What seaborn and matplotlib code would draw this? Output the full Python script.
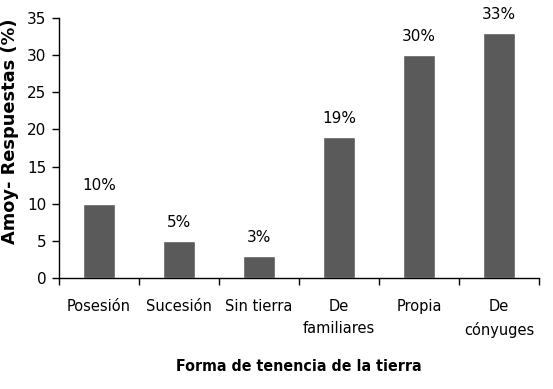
import matplotlib
matplotlib.use("Agg")
import matplotlib.pyplot as plt
import seaborn as sns
import pandas as pd

categorias = ["Posesión", "Sucesión", "Sin tierra", "De\nfamiliares", "Propia", "De\ncónyuges"]
valores = [10, 5, 3, 19, 30, 33]
etiquetas = ["10%", "5%", "3%", "19%", "30%", "33%"]

sns.set_style("white")
plt.rcParams['font.family'] = ['DejaVu Sans']
plt.rcParams['text.color'] = 'black'
plt.rcParams['axes.labelcolor'] = 'black'
plt.rcParams['xtick.color'] = 'black'
plt.rcParams['ytick.color'] = 'black'

df = pd.DataFrame({"cat": categorias, "val": valores})

fig = plt.figure(figsize=(5.53, 3.89), dpi=100)
ax = fig.add_axes([0.1067, 0.2853, 0.868, 0.6684])
sns.barplot(data=df, x="cat", y="val", color="#5a5a5a", width=0.4,
            saturation=1, errorbar=None, ax=ax)

for i, (v, t) in enumerate(zip(valores, etiquetas)):
    ax.annotate(t, (i, v), xytext=(0, 8), textcoords="offset points",
                ha="center", va="bottom", fontsize=11)

ax.set_ylim(0, 35)
ax.set_xlim(-0.5, 5.5)
ax.set_yticks(range(0, 36, 5))
ax.tick_params(axis="y", direction="out", length=5, width=1,
               labelsize=11, left=True, pad=4)
ax.tick_params(axis="x", which="major", length=0, labelsize=10.5, pad=15)
for lab in ax.get_xticklabels():
    lab.set_linespacing(1.6)
ax.set_xticks([i - 0.5 for i in range(7)], minor=True)
ax.tick_params(axis="x", which="minor", direction="out", length=5, width=1,
               bottom=True)

for s in ["top", "right"]:
    ax.spines[s].set_visible(False)
for s in ["left", "bottom"]:
    ax.spines[s].set_color("black")
    ax.spines[s].set_linewidth(1)

ax.set_xlabel("Forma de tenencia de la tierra", fontsize=11.4, fontweight="bold",
              fontstretch="condensed")
ax.xaxis.set_label_coords(0.5, -0.31)
ax.set_ylabel("Amoy- Respuestas (%)", fontsize=12.8, fontweight="bold")
ax.yaxis.set_label_coords(-0.083, 0.565)

fig.savefig("out.png", dpi=100)
